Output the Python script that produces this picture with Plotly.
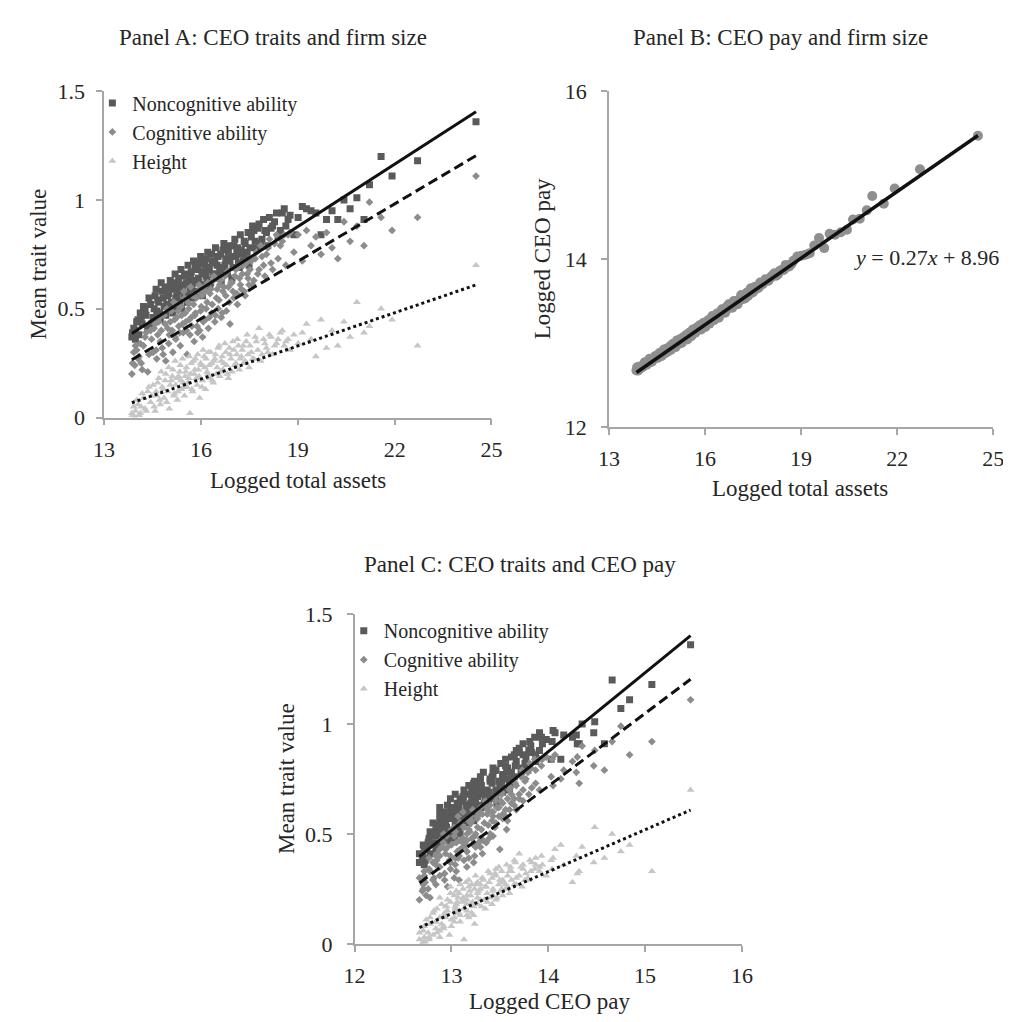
import plotly.graph_objects as go

# ---------------- data ----------------
assets = [13.86, 13.88, 13.92, 13.97, 14.05, 14.12, 14.18, 14.27, 14.35, 14.44,
          14.52, 14.58, 14.63, 14.69, 14.74, 14.80, 14.86, 14.91, 14.97, 15.02,
          15.08, 15.13, 15.18, 15.22, 15.27, 15.31, 15.36, 15.40, 15.45, 15.49,
          15.53, 15.57, 15.62, 15.66, 15.70, 15.74, 15.79, 15.83, 15.88, 15.92,
          15.96, 16.01, 16.05, 16.10, 16.14, 16.19, 16.23, 16.28, 16.33, 16.38,
          16.43, 16.48, 16.53, 16.58, 16.63, 16.68, 16.74, 16.79, 16.85, 16.90,
          16.96, 17.02, 17.08, 17.13, 17.19, 17.25, 17.31, 17.37, 17.43, 17.49,
          17.56, 17.64, 17.72, 17.80, 17.89, 17.98, 18.07, 18.17, 18.28, 18.39,
          18.52, 18.63, 18.76, 18.88, 19.01, 19.14, 19.27, 19.41, 19.56, 19.72,
          19.89, 20.06, 20.24, 20.43, 20.62, 20.83, 21.05, 21.22, 21.58, 21.92,
          22.71, 24.52,
          13.95, 14.01, 14.08, 14.15, 14.22, 14.30, 14.39, 14.47, 14.55, 14.61,
          14.66, 14.72, 14.77, 14.83, 14.89, 14.94, 15.00, 15.05, 15.11, 15.16,
          15.20, 15.25, 15.29, 15.34, 15.38, 15.43, 15.47, 15.51, 15.55, 15.60,
          15.64, 15.68, 15.72, 15.77, 15.81, 15.86, 15.90, 15.94, 15.99, 16.03,
          16.07, 16.12, 16.16, 16.21, 16.26, 16.30, 16.35, 16.40, 16.45, 16.50,
          16.56, 16.61, 16.66, 16.71, 16.77, 16.82, 16.88, 16.93, 16.99, 17.05,
          17.11, 17.16, 17.22, 17.28, 17.34, 17.40, 17.46, 17.52, 17.60, 17.68,
          17.76, 17.85, 17.94, 18.03, 18.12, 18.22, 18.34, 18.46, 18.58, 18.70]

pay = [12.67, 12.71, 12.67, 12.72, 12.71, 12.77, 12.74, 12.81, 12.78, 12.84,
       12.82, 12.88, 12.84, 12.90, 12.88, 12.93, 12.90, 12.96, 12.94, 12.98,
       12.95, 13.03, 13.00, 13.04, 13.00, 13.06, 13.05, 13.09, 13.04, 13.09,
       13.12, 13.08, 13.16, 13.13, 13.12, 13.18, 13.16, 13.21, 13.16, 13.20,
       13.24, 13.19, 13.23, 13.27, 13.23, 13.27, 13.32, 13.27, 13.30, 13.35,
       13.30, 13.34, 13.40, 13.37, 13.36, 13.43, 13.46, 13.43, 13.42, 13.50,
       13.47, 13.46, 13.52, 13.57, 13.53, 13.53, 13.60, 13.58, 13.65, 13.60,
       13.67, 13.65, 13.72, 13.70, 13.76, 13.74, 13.79, 13.83, 13.82, 13.87,
       13.93, 13.91, 13.98, 14.03, 14.04, 14.05, 14.07, 14.16, 14.25, 14.13,
       14.30, 14.29, 14.32, 14.35, 14.47, 14.48, 14.58, 14.75, 14.66, 14.84,
       15.07, 15.47,
       12.70, 12.72, 12.73, 12.76, 12.78, 12.77, 12.81, 12.84, 12.85, 12.88,
       12.85, 12.92, 12.88, 12.93, 12.94, 12.92, 12.99, 12.96, 12.99, 13.03,
       12.99, 13.05, 13.03, 13.07, 13.04, 13.09, 13.07, 13.12, 13.08, 13.13,
       13.15, 13.12, 13.16, 13.18, 13.16, 13.20, 13.18, 13.22, 13.24, 13.21,
       13.25, 13.27, 13.25, 13.30, 13.28, 13.32, 13.31, 13.35, 13.33, 13.37,
       13.38, 13.40, 13.39, 13.43, 13.42, 13.46, 13.45, 13.49, 13.49, 13.51,
       13.53, 13.52, 13.56, 13.58, 13.56, 13.61, 13.62, 13.62, 13.67, 13.66,
       13.70, 13.73, 13.74, 13.77, 13.81, 13.80, 13.86, 13.87, 13.91, 13.94]

noncog = [0.37, 0.39, 0.41, 0.36, 0.45, 0.48, 0.43, 0.50, 0.41, 0.52,
          0.46, 0.56, 0.49, 0.53, 0.45, 0.58, 0.51, 0.47, 0.56, 0.60,
          0.53, 0.48, 0.62, 0.55, 0.51, 0.64, 0.58, 0.50, 0.61, 0.66,
          0.57, 0.53, 0.63, 0.59, 0.67, 0.55, 0.62, 0.69, 0.58, 0.64,
          0.71, 0.61, 0.56, 0.67, 0.73, 0.63, 0.69, 0.60, 0.75, 0.66,
          0.71, 0.64, 0.74, 0.68, 0.62, 0.77, 0.70, 0.66, 0.76, 0.72,
          0.64, 0.79, 0.74, 0.78, 0.69, 0.77, 0.72, 0.80, 0.76, 0.70,
          0.83, 0.86, 0.78, 0.89, 0.82, 0.86, 0.79, 0.87, 0.90, 0.83,
          0.94, 0.88, 0.93, 0.84, 0.92, 0.97, 0.96, 0.95, 0.94, 0.84,
          0.91, 0.95, 0.91, 1.00, 0.96, 1.01, 0.91, 1.07, 1.20, 1.11,
          1.18, 1.36,
          0.40, 0.44, 0.38, 0.46, 0.51, 0.47, 0.55, 0.43, 0.50, 0.59,
          0.54, 0.48, 0.62, 0.55, 0.60, 0.52, 0.57, 0.63, 0.50, 0.59,
          0.66, 0.56, 0.61, 0.53, 0.68, 0.60, 0.55, 0.65, 0.62, 0.70,
          0.56, 0.65, 0.60, 0.72, 0.63, 0.57, 0.68, 0.62, 0.74, 0.66,
          0.60, 0.70, 0.65, 0.76, 0.68, 0.62, 0.72, 0.66, 0.78, 0.70,
          0.65, 0.75, 0.69, 0.80, 0.73, 0.67, 0.79, 0.74, 0.69, 0.82,
          0.76, 0.71, 0.84, 0.75, 0.81, 0.73, 0.85, 0.78, 0.88, 0.81,
          0.87, 0.80, 0.91, 0.85, 0.92, 0.88, 0.94, 0.86, 0.96, 0.91]

cog = [0.20, 0.25, 0.30, 0.33, 0.27, 0.34, 0.22, 0.37, 0.21, 0.40,
       0.30, 0.43, 0.27, 0.44, 0.35, 0.32, 0.47, 0.26, 0.41, 0.38,
       0.49, 0.30, 0.45, 0.36, 0.52, 0.42, 0.33, 0.47, 0.39, 0.55,
       0.44, 0.29, 0.50, 0.38, 0.46, 0.56, 0.35, 0.48, 0.42, 0.58,
       0.40, 0.51, 0.37, 0.60, 0.45, 0.53, 0.41, 0.57, 0.48, 0.63,
       0.44, 0.55, 0.50, 0.61, 0.46, 0.58, 0.65, 0.49, 0.60, 0.43,
       0.62, 0.55, 0.68, 0.52, 0.64, 0.59, 0.70, 0.56, 0.66, 0.61,
       0.72, 0.63, 0.76, 0.68, 0.74, 0.65, 0.78, 0.71, 0.80, 0.73,
       0.81, 0.70, 0.85, 0.76, 0.84, 0.72, 0.86, 0.79, 0.83, 0.75,
       0.85, 0.78, 0.73, 0.90, 0.81, 0.88, 0.79, 0.99, 0.92, 0.86,
       0.92, 1.11,
       0.24, 0.31, 0.28, 0.25, 0.33, 0.39, 0.29, 0.36, 0.41, 0.31,
       0.38, 0.46, 0.40, 0.29, 0.43, 0.50, 0.34, 0.44, 0.40, 0.53,
       0.37, 0.46, 0.49, 0.39, 0.51, 0.43, 0.58, 0.48, 0.40, 0.53,
       0.45, 0.60, 0.42, 0.52, 0.47, 0.55, 0.39, 0.61, 0.49, 0.56,
       0.44, 0.58, 0.50, 0.62, 0.46, 0.59, 0.52, 0.65, 0.47, 0.59,
       0.54, 0.63, 0.48, 0.60, 0.56, 0.67, 0.53, 0.62, 0.58, 0.65,
       0.57, 0.69, 0.61, 0.66, 0.58, 0.71, 0.64, 0.68, 0.61, 0.73,
       0.66, 0.79, 0.70, 0.75, 0.82, 0.68, 0.84, 0.79, 0.84, 0.84]

height = [0.02, 0.01, 0.05, 0.03, 0.06, 0.02, 0.11, 0.04, 0.12, 0.07,
          0.15, 0.03, 0.10, 0.18, 0.06, 0.14, 0.09, 0.20, 0.12, 0.04,
          0.17, 0.22, 0.11, 0.15, 0.08, 0.19, 0.24, 0.13, 0.16, 0.10,
          0.21, 0.14, 0.18, 0.02, 0.25, 0.12, 0.20, 0.27, 0.15, 0.22,
          0.09, 0.24, 0.17, 0.28, 0.13, 0.21, 0.30, 0.18, 0.25, 0.16,
          0.27, 0.20, 0.32, 0.19, 0.26, 0.22, 0.34, 0.24, 0.18, 0.29,
          0.21, 0.31, 0.25, 0.36, 0.22, 0.28, 0.33, 0.26, 0.38, 0.23,
          0.30, 0.27, 0.35, 0.41, 0.29, 0.34, 0.30, 0.37, 0.33, 0.36,
          0.40, 0.35, 0.31, 0.38, 0.34, 0.39, 0.43, 0.36, 0.28, 0.45,
          0.32, 0.40, 0.33, 0.44, 0.37, 0.53, 0.39, 0.42, 0.50, 0.45,
          0.33, 0.70,
          0.00, 0.08, 0.01, 0.05, 0.09, 0.03, 0.14, 0.10, 0.05, 0.12,
          0.16, 0.08, 0.21, 0.13, 0.17, 0.07, 0.23, 0.15, 0.19, 0.10,
          0.26, 0.18, 0.12, 0.21, 0.17, 0.27, 0.14, 0.19, 0.23, 0.16,
          0.28, 0.20, 0.13, 0.26, 0.22, 0.18, 0.29, 0.19, 0.25, 0.14,
          0.31, 0.23, 0.27, 0.20, 0.24, 0.30, 0.17, 0.26, 0.29, 0.23,
          0.33, 0.21, 0.28, 0.25, 0.30, 0.20, 0.32, 0.27, 0.35, 0.24,
          0.29, 0.33, 0.27, 0.31, 0.25, 0.35, 0.29, 0.33, 0.27, 0.37,
          0.31, 0.26, 0.36, 0.32, 0.38, 0.29, 0.34, 0.39, 0.33, 0.36]

trait_names = ["Noncognitive ability", "Cognitive ability", "Height"]
# linear trend coefficients (slope, intercept)
trend_assets_slope = [0.0956, 0.0880, 0.0508]
trend_assets_icpt = [-0.939, -0.954, -0.636]
trend_pay_slope = [0.359, 0.331, 0.191]
trend_pay_icpt = [-4.152, -3.917, -2.346]
pay_fit = [0.265, 8.975]
pay_eq_label = "<i>y</i> = 0.27<i>x</i> + 8.96"

panel_titles = ["Panel A: CEO traits and firm size",
                "Panel B: CEO pay and firm size",
                "Panel C: CEO traits and CEO pay"]

# ---------------- styling ----------------
FONT = "Liberation Serif, Times New Roman, serif"
TXT = "#262626"
AX = "#a6a6a6"
traits = [noncog, cog, height]
symbols = ["square", "diamond", "triangle-up"]
sizes = [7, 6, 7]
colors = ["#5a5a5a", "#8c8c8c", "#c6c6c6"]
dashes = ["solid", "10px,5px", "3px,3px"]

W, H = 1011, 1022
fig = go.Figure()

# Panel A
for i in range(3):
    fig.add_trace(go.Scatter(x=assets, y=traits[i], mode="markers", name=trait_names[i],
                             marker=dict(symbol=symbols[i], size=sizes[i], color=colors[i]),
                             xaxis="x", yaxis="y", legend="legend"))
for i in range(3):
    x0, x1 = min(assets), max(assets)
    fig.add_trace(go.Scatter(x=[x0, x1],
                             y=[trend_assets_icpt[i] + trend_assets_slope[i] * x0,
                                trend_assets_icpt[i] + trend_assets_slope[i] * x1],
                             mode="lines", showlegend=False,
                             line=dict(color="#111111", width=3, dash=dashes[i]),
                             xaxis="x", yaxis="y"))

# Panel B
fig.add_trace(go.Scatter(x=assets, y=pay, mode="markers", showlegend=False,
                         marker=dict(symbol="circle", size=10, color="#8f8f8f"),
                         xaxis="x2", yaxis="y2"))
x0, x1 = min(assets), max(assets)
fig.add_trace(go.Scatter(x=[x0, x1], y=[pay_fit[0] * x0 + pay_fit[1], pay_fit[0] * x1 + pay_fit[1]],
                         mode="lines", showlegend=False,
                         line=dict(color="#111111", width=3.5), xaxis="x2", yaxis="y2"))

# Panel C
for i in range(3):
    fig.add_trace(go.Scatter(x=pay, y=traits[i], mode="markers", name=trait_names[i],
                             marker=dict(symbol=symbols[i], size=sizes[i], color=colors[i]),
                             xaxis="x3", yaxis="y3", legend="legend2"))
for i in range(3):
    x0, x1 = min(pay), max(pay)
    fig.add_trace(go.Scatter(x=[x0, x1],
                             y=[trend_pay_icpt[i] + trend_pay_slope[i] * x0,
                                trend_pay_icpt[i] + trend_pay_slope[i] * x1],
                             mode="lines", showlegend=False,
                             line=dict(color="#111111", width=3, dash=dashes[i]),
                             xaxis="x3", yaxis="y3"))


def px_x(p):
    return p / W


def px_y(p):
    return 1 - p / H


axis_common = dict(showgrid=False, zeroline=False, showline=True, linecolor=AX, linewidth=1.5,
                   ticks="outside", ticklen=6, tickcolor=AX, tickwidth=1.5, mirror=False,
                   tickfont=dict(family=FONT, size=22, color=TXT))

fig.update_layout(
    width=W, height=H, margin=dict(l=0, r=0, t=0, b=0),
    paper_bgcolor="white", plot_bgcolor="white",
    font=dict(family=FONT, color=TXT),
    xaxis=dict(domain=[px_x(87), px_x(483)], range=[13, 25], tick0=13, dtick=3, anchor="y",
               ticklabelstandoff=5, **axis_common),
    yaxis=dict(domain=[px_y(407.5), px_y(73)], range=[0, 1.5], dtick=0.5, anchor="x",
               ticklabelstandoff=7, **axis_common),
    xaxis2=dict(domain=[px_x(603), px_x(996)], range=[13, 25], tick0=13, dtick=3, anchor="y2",
                ticklabelstandoff=5, **axis_common),
    yaxis2=dict(domain=[px_y(417), px_y(73)], range=[12, 16], dtick=2, anchor="x2",
                ticklabelstandoff=10, **axis_common),
    xaxis3=dict(domain=[px_x(343), px_x(739)], range=[12, 16], dtick=1, anchor="y3",
                ticklabelstandoff=5, **axis_common),
    yaxis3=dict(domain=[px_y(947), px_y(609)], range=[0, 1.5], dtick=0.5, anchor="x3",
                ticklabelstandoff=10, **axis_common),
    legend=dict(x=px_x(75), y=px_y(65), xanchor="left", yanchor="top",
                font=dict(family=FONT, size=20, color=TXT), bgcolor="rgba(0,0,0,0)",
                itemwidth=30, tracegroupgap=0),
    legend2=dict(x=px_x(332), y=px_y(606), xanchor="left", yanchor="top",
                 font=dict(family=FONT, size=20, color=TXT), bgcolor="rgba(0,0,0,0)",
                 itemwidth=30, tracegroupgap=0),
)

ann = []
title_pos = [(260, 18), (778, 18), (512, 558)]
for t, (xp, yp) in zip(panel_titles, title_pos):
    ann.append(dict(text=t, x=px_x(xp), y=px_y(yp), xref="paper", yref="paper",
                    xanchor="center", yanchor="middle", showarrow=False,
                    font=dict(family=FONT, size=23, color=TXT)))
axis_titles = [("Logged total assets", 285, 472, 0), ("Mean trait value", 20, 250, -90),
               ("Logged total assets", 798, 480, 0), ("Logged CEO pay", 535, 245, -90),
               ("Logged CEO pay", 542, 1006, 0), ("Mean trait value", 274, 778, -90)]
for t, xp, yp, ang in axis_titles:
    ann.append(dict(text=t, x=px_x(xp), y=px_y(yp), xref="paper", yref="paper",
                    xanchor="center", yanchor="middle", showarrow=False, textangle=ang,
                    font=dict(family=FONT, size=23, color=TXT)))
ann.append(dict(text=pay_eq_label, x=20.6, y=14.02, xref="x2", yref="y2",
                xanchor="left", yanchor="middle", showarrow=False,
                font=dict(family=FONT, size=22, color=TXT)))
fig.update_layout(annotations=ann)

fig.write_html("out.html")
